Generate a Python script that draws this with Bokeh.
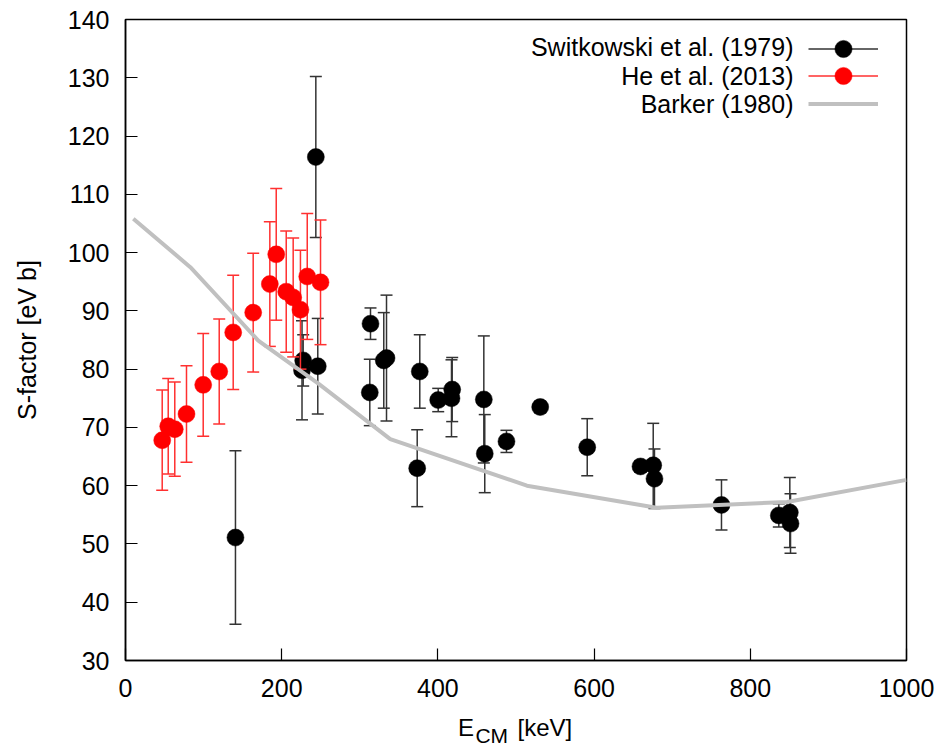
from bokeh.plotting import figure
from bokeh.models import (ColumnDataSource, Range1d, FixedTicker, Legend, LegendItem,
                          Label, LinearAxis)
from bokeh.embed import file_html
from bokeh.resources import INLINE

# ---- data ----
# Switkowski et al. (1979)
sw_E = [140.8, 243.7, 227.5, 226.0, 246.2, 313.7, 312.8, 330.7, 334.2, 376.8, 373.5,
        400.4, 418.3, 417.4, 458.8, 460.0, 487.8, 531.0, 591.2, 659.4, 675.7, 677.3,
        763.1, 836.5, 850.6, 851.5]
sw_S = [51.1, 116.4, 81.5, 79.8, 80.5, 87.8, 76.0, 81.5, 81.9, 79.6, 63.0,
        74.7, 76.5, 75.0, 74.8, 65.5, 67.6, 73.5, 66.6, 63.3, 63.5, 61.2,
        56.7, 54.9, 55.4, 53.5]
sw_err = [14.9, 13.8, 4.4, 8.5, 8.2, 2.7, 5.7, 8.2, 10.8, 6.3, 6.6,
          2.0, 5.5, 6.6, 10.9, 6.7, 1.9, 1.0, 4.9, 1.0, 7.2, 5.1,
          4.3, 2.0, 6.0, 5.1]

# He et al. (2013)
he_E = [47.0, 54.7, 63.1, 78.1, 99.5, 120.0, 137.9, 163.5, 184.8, 193.0,
        205.8, 214.7, 224.0, 232.7, 249.7]
he_S = [67.8, 70.2, 69.7, 72.3, 77.3, 79.6, 86.3, 89.7, 94.6, 99.7,
        93.3, 92.3, 90.2, 95.9, 94.9]
he_err = [8.6, 8.2, 8.1, 8.3, 8.8, 9.0, 9.8, 10.2, 10.7, 11.3,
          10.4, 10.2, 10.2, 10.8, 10.7]

# Barker (1980)
barker_E = [10, 83, 170, 247, 339, 514, 680, 847, 1000]
barker_S = [105.8, 97.5, 84.9, 77.5, 68.0, 60.0, 56.2, 57.2, 61.0]

x_ticks = [0, 200, 400, 600, 800, 1000]
y_ticks = [30, 40, 50, 60, 70, 80, 90, 100, 110, 120, 130, 140]

FONT = "Liberation Sans"


def err_sources(E, S, err):
    lo = [s - e for s, e in zip(S, err)]
    hi = [s + e for s, e in zip(S, err)]
    bars = ColumnDataSource(dict(x=E, lo=lo, hi=hi))
    caps = ColumnDataSource(dict(x=list(E) + list(E), y=lo + hi))
    pts = ColumnDataSource(dict(x=E, y=S))
    return bars, caps, pts


p = figure(width=935, height=749,
           x_range=Range1d(0, 1000), y_range=Range1d(30, 140),
           output_backend="svg", toolbar_location=None,
           min_border_left=125, min_border_top=19,
           min_border_right=29, min_border_bottom=89,
           background_fill_color="white", border_fill_color="white")

p.grid.visible = False
p.outline_line_color = "black"
p.outline_line_width = 1.5
p.outline_line_alpha = 1.0

for ax in (p.xaxis[0], p.yaxis[0]):
    ax.major_tick_in = 12
    ax.major_tick_out = 0
    ax.minor_tick_in = 0
    ax.minor_tick_out = 0
    ax.major_tick_line_color = "black"
    ax.major_tick_line_width = 1.2
    ax.axis_line_color = "black"
    ax.axis_line_width = 1.5
    ax.major_label_text_font = FONT
    ax.major_label_text_font_size = "25px"
    ax.major_label_text_color = "black"

p.xaxis.ticker = FixedTicker(ticks=x_ticks)
p.yaxis.ticker = FixedTicker(ticks=y_ticks)
p.xaxis.major_label_standoff = 18
p.yaxis.major_label_standoff = 16

p.yaxis.axis_label = "S-factor [eV b]"
p.yaxis.axis_label_text_font = FONT
p.yaxis.axis_label_text_font_size = "25px"
p.yaxis.axis_label_text_font_style = "normal"
p.yaxis.axis_label_text_color = "black"
p.yaxis.axis_label_standoff = 24

# Switkowski
sw_bars, sw_caps, sw_pts = err_sources(sw_E, sw_S, sw_err)
sw_seg = p.segment(x0="x", y0="lo", x1="x", y1="hi", source=sw_bars,
                   line_color="#333333", line_width=1.5)
p.scatter(x="x", y="y", source=sw_caps, marker="dash", size=12,
          line_color="#333333", line_width=1.5)
sw_dot = p.scatter(x="x", y="y", source=sw_pts, marker="circle", size=17,
                   fill_color="black", line_color="black", line_width=0.5)

# He
he_bars, he_caps, he_pts = err_sources(he_E, he_S, he_err)
he_seg = p.segment(x0="x", y0="lo", x1="x", y1="hi", source=he_bars,
                   line_color="#ff3030", line_width=1.5)
p.scatter(x="x", y="y", source=he_caps, marker="dash", size=12,
          line_color="#ff3030", line_width=1.5)
he_dot = p.scatter(x="x", y="y", source=he_pts, marker="circle", size=17,
                   fill_color="red", line_color="red", line_width=0.5)

# Barker
barker = p.line(x=barker_E, y=barker_S, line_color="#c0c0c0", line_width=4)

# legend: one single-item legend per row (glyph on the right of the text)
leg_texts = ["Switkowski et al. (1979)", "He et al. (2013)", "Barker (1980)"]
leg_renderers = [[sw_seg, sw_dot], [he_seg, he_dot], [barker]]
leg_bottom = [590.5, 563, 535.5]
leg_text_y = [613.3, 585, 557]
for t, rends, yb, yt in zip(leg_texts, leg_renderers, leg_bottom, leg_text_y):
    lg = Legend(items=[LegendItem(label=" ", renderers=rends)],
                location=(683, yb), glyph_width=70, glyph_height=43, spacing=0,
                padding=0, margin=0, label_standoff=0, label_width=0, label_height=0,
                label_text_font_size="1px", border_line_alpha=0,
                background_fill_alpha=0)
    p.add_layout(lg)
    p.add_layout(Label(x=668, y=yt, x_units="screen", y_units="screen", text=t,
                       text_align="right", text_baseline="middle",
                       text_font=FONT, text_font_size="25px", text_color="black"))


# x-axis title "E_CM [keV]" built from two label-only axes below the tick axis
def text_axis(positions, texts, size, standoff):
    ax = LinearAxis(ticker=FixedTicker(ticks=positions),
                    major_label_overrides=dict(zip(positions, texts)))
    ax.axis_line_color = None
    ax.major_tick_line_color = None
    ax.minor_tick_line_color = None
    ax.major_tick_in = 0
    ax.major_tick_out = 0
    ax.minor_tick_in = 0
    ax.minor_tick_out = 0
    ax.major_label_standoff = standoff
    ax.major_label_text_font = FONT
    ax.major_label_text_font_size = size
    ax.major_label_text_color = "black"
    return ax


p.add_layout(text_axis([436, 537], ["E", "[keV]"], "24px", 14), "below")
p.add_layout(text_axis([469], ["CM"], "21px", -20), "below")

open("out.html", "w").write(file_html(p, INLINE))
